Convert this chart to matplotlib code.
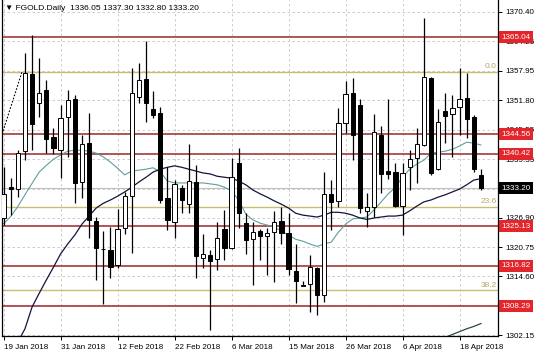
import matplotlib
matplotlib.use('Agg')
import matplotlib.pyplot as plt
import matplotlib.transforms as mtransforms
import numpy as np

plt.rcParams['font.family'] = ['Liberation Sans', 'DejaVu Sans']

# ---------------- data ----------------
opens = [1326.80, 1333.40, 1332.93, 1341.02, 1357.29, 1351.09, 1353.91, 1343.90, 1341.23, 1348.13,
         1352.01, 1334.55, 1342.64, 1326.31, 1320.45, 1320.12, 1316.95, 1324.69, 1331.59, 1352.50,
         1356.23, 1349.82, 1348.98, 1331.03, 1326.10, 1333.28, 1329.76, 1334.41, 1318.50, 1318.99,
         1318.14, 1324.55, 1320.47, 1338.56, 1325.75, 1322.44, 1324.13, 1323.07, 1323.85, 1326.24,
         1323.78, 1315.75, 1312.62, 1312.86, 1316.24, 1310.61, 1331.87, 1330.46, 1346.87, 1353.34,
         1350.74, 1328.42, 1329.27, 1344.40, 1336.80, 1336.52, 1329.41, 1337.71, 1339.47, 1342.29,
         1356.37, 1337.22, 1349.54, 1348.77, 1350.25, 1352.15, 1348.27, 1336.05]
highs = [1337.71, 1335.39, 1341.23, 1361.65, 1365.52, 1360.59, 1356.02, 1346.00, 1350.74, 1353.91,
         1352.85, 1344.40, 1348.98, 1327.16, 1324.20, 1325.04, 1328.70, 1332.44, 1358.48, 1359.54,
         1364.33, 1353.77, 1350.39, 1337.71, 1334.90, 1333.84, 1342.50, 1338.07, 1323.42, 1320.12,
         1326.10, 1328.56, 1339.47, 1341.73, 1327.86, 1325.96, 1324.48, 1324.69, 1328.42, 1329.13,
         1327.86, 1321.38, 1313.64, 1319.06, 1316.60, 1336.66, 1334.90, 1350.03, 1355.81, 1356.51,
         1352.01, 1332.08, 1348.77, 1346.30, 1352.01, 1338.42, 1338.56, 1341.23, 1345.81, 1369.10,
         1356.60, 1349.82, 1353.20, 1352.85, 1358.62, 1357.57, 1348.63, 1337.30]
lows = [1325.40, 1327.51, 1331.38, 1339.12, 1341.23, 1348.27, 1340.53, 1340.50, 1335.25, 1339.83,
        1329.97, 1331.03, 1322.58, 1313.78, 1308.71, 1314.13, 1316.24, 1323.49, 1319.41, 1351.09,
        1347.22, 1347.92, 1330.11, 1324.34, 1322.58, 1327.86, 1327.86, 1314.13, 1316.24, 1303.22,
        1315.89, 1318.00, 1320.26, 1324.69, 1319.20, 1312.72, 1318.00, 1314.84, 1313.43, 1321.38,
        1314.84, 1308.85, 1312.45, 1307.09, 1306.39, 1309.20, 1324.34, 1329.27, 1344.75, 1339.12,
        1327.86, 1325.04, 1327.16, 1332.08, 1335.04, 1329.13, 1323.28, 1332.79, 1334.19, 1342.08,
        1335.90, 1337.01, 1342.64, 1339.83, 1344.40, 1343.70, 1336.66, 1332.80]
closes = [1331.94, 1333.10, 1340.67, 1357.57, 1346.66, 1353.34, 1343.49, 1341.60, 1348.06, 1351.79,
          1334.19, 1342.43, 1326.45, 1320.61, 1320.25, 1316.60, 1324.62, 1331.59, 1353.20, 1356.02,
          1351.09, 1348.63, 1330.68, 1326.45, 1333.98, 1330.68, 1334.69, 1318.92, 1319.20, 1317.86,
          1322.58, 1320.47, 1335.60, 1327.86, 1322.23, 1323.85, 1323.07, 1323.78, 1326.10, 1323.78,
          1316.03, 1313.64, 1312.50, 1316.45, 1310.61, 1331.87, 1330.32, 1346.87, 1353.06, 1344.40,
          1328.92, 1329.27, 1344.97, 1336.17, 1336.17, 1329.41, 1336.31, 1339.26, 1342.50, 1356.72,
          1336.31, 1347.22, 1348.49, 1350.03, 1351.94, 1347.71, 1337.15, 1333.20]

ma_fast = [1325.7, 1327.2, 1329.3, 1331.8, 1334.2, 1336.6, 1338.0, 1339.3, 1340.2, 1341.0,
           1341.2, 1341.2, 1341.0, 1340.6, 1339.8, 1338.7, 1337.4, 1336.0, 1336.8, 1337.0,
           1337.2, 1337.5, 1336.6, 1334.7, 1334.3, 1334.3, 1334.3, 1334.3, 1334.3, 1334.1,
           1333.9, 1333.4, 1332.6, 1330.7, 1327.7, 1326.5, 1325.8, 1325.4, 1325.0, 1324.1,
           1323.3, 1322.4, 1322.0, 1321.4, 1320.9, 1321.4, 1321.8, 1323.9, 1325.6, 1326.7,
           1326.9, 1327.1, 1328.6, 1330.3, 1332.0, 1333.4, 1335.5, 1337.2, 1338.3, 1339.1,
           1340.6, 1340.8, 1341.0, 1341.4, 1342.1, 1342.9, 1342.7, 1342.3]
ma_slow = [1294.8, 1297.7, 1300.7, 1303.5, 1308.1, 1311.0, 1313.8, 1316.5, 1319.3, 1321.4,
           1323.3, 1325.6, 1327.3, 1329.0, 1330.0, 1330.7, 1331.5, 1332.4, 1333.4, 1334.5,
           1335.5, 1336.6, 1337.2, 1337.6, 1337.9, 1337.6, 1337.2, 1336.8, 1336.4, 1336.2,
           1335.7, 1335.5, 1335.3, 1334.7, 1333.9, 1332.8, 1332.0, 1331.3, 1330.5, 1329.8,
           1329.0, 1327.9, 1327.5, 1327.3, 1327.1, 1327.5, 1328.1, 1328.1, 1327.9, 1327.5,
           1326.9, 1326.6, 1326.9, 1327.1, 1327.3, 1327.3, 1327.5, 1328.4, 1329.4, 1330.3,
           1330.7, 1331.3, 1331.8, 1332.4, 1333.0, 1333.9, 1334.9, 1335.2]
ma_long = [np.nan] * 61 + [1301.1, 1301.7, 1302.3, 1302.9, 1303.5, 1304.0, 1304.6]

date_tick_bars = [0, 8, 16, 24, 32, 40, 48, 56, 64]
date_labels = ['19 Jan 2018', '31 Jan 2018', '12 Feb 2018', '22 Feb 2018', '6 Mar 2018',
               '15 Mar 2018', '26 Mar 2018', '6 Apr 2018', '18 Apr 2018']

ytick_values = [1302.15, 1308.45, 1314.60, 1320.75, 1326.90, 1333.05, 1339.35, 1345.55,
                1351.80, 1357.95, 1364.25, 1370.40]
ytick_labels = ['1302.15', '', '1314.60', '1320.75', '1326.90', '', '1339.35',
                '1345.55', '1351.80', '1357.95', '1364.25', '1370.40']

level_values = [1365.04, 1344.56, 1340.42, 1325.13, 1316.82, 1308.29]
level_labels = ['1365.04', '1344.56', '1340.42', '1325.13', '1316.82', '1308.29']

fib_high = 1357.8
fib_low = 1237.0
fib_ratios = [0.0, 23.6, 38.2]
fib_ratio_labels = ['0.0', '23.6', '38.2']
fib_anchor_bars = [-23.1, 2.6]

current_price = 1333.20
title_text = '\u25BC FGOLD.Daily  1336.05 1337.30 1332.80 1333.20'

# ---------------- figure ----------------
W, H = 536, 357
fig = plt.figure(figsize=(W / 100, H / 100), dpi=100)
fig.patch.set_facecolor('white')
ax = fig.add_axes([2 / W, 1 - 336 / H, 496 / W, 336 / H])
ax.set_facecolor('white')

n = len(opens)
x = np.arange(n)
ax.set_xlim(-0.22, 69.4)
ax.set_ylim(1301.98, 1372.92)

# grid
for v in ytick_values:
    ax.axhline(v, color='#c4c4c4', lw=0.6, ls=(0, (3, 3)), zorder=0)
for b in date_tick_bars:
    ax.axvline(b, color='#c4c4c4', lw=0.6, ls=(0, (3, 3)), zorder=0)

# bid line
ax.axhline(current_price, color='#c0c0c0', lw=0.8, zorder=1)

# support / resistance lines
for v in level_values:
    ax.axhline(v, color='#a33a3a', lw=1.2, zorder=1)

# fibonacci levels
fib_prices = [fib_high - (fib_high - fib_low) * r / 100 for r in fib_ratios]
for p, lab in zip(fib_prices, fib_ratio_labels):
    ax.axhline(p, color='#c9bd72', lw=1.0, zorder=1)
    ax.text(0.997, p + 0.35, lab, transform=mtransforms.blended_transform_factory(ax.transAxes, ax.transData),
            ha='right', va='bottom', fontsize=6, color='#b8a468', zorder=3)
ax.plot(fib_anchor_bars, [fib_low, fib_high], color='black', lw=0.8, ls=(0, (1.5, 1.5)), zorder=2)

# moving averages
ax.plot(x, ma_fast, color='#5f9ea0', lw=0.8, zorder=2)
ax.plot(x, ma_slow, color='#14143c', lw=0.9, zorder=2)
ax.plot(x, ma_long, color='#2b4a35', lw=0.9, zorder=2)

# candles
o = np.array(opens); c = np.array(closes); h = np.array(highs); l = np.array(lows)
ax.vlines(x, l, h, color='black', lw=0.9, zorder=3)
body_bottom = np.minimum(o, c)
body_height = np.maximum(np.abs(c - o), 0.18)
face = ['white' if cc > oo else 'black' for oo, cc in zip(o, c)]
ax.bar(x, body_height, bottom=body_bottom, width=0.6, color=face, edgecolor='black',
       linewidth=0.7, zorder=4)

# axes styling
ax.spines['top'].set_visible(False)
for s in ['left', 'bottom', 'right']:
    ax.spines[s].set_color('black')
    ax.spines[s].set_linewidth(0.9)

ax.yaxis.tick_right()
ax.set_yticks(ytick_values)
ax.set_yticklabels(ytick_labels)
ax.tick_params(axis='y', which='both', length=3, width=0.7, pad=2, labelsize=5.8, colors='black')
ax.set_xticks(date_tick_bars)
ax.set_xticklabels(date_labels)
ax.tick_params(axis='x', length=3, width=0.7, pad=2.5, labelsize=5.8, colors='black')
for t in ax.get_xticklabels():
    t.set_ha('left')

trans = mtransforms.blended_transform_factory(ax.transAxes, ax.transData)
for v, lab in zip(level_values, level_labels):
    ax.text(1.006, v, lab, transform=trans, ha='left', va='center', fontsize=5.8, color='white',
            bbox=dict(boxstyle='square,pad=0.3', fc='#e3262b', ec='none'), clip_on=False, zorder=10)
ax.text(1.006, current_price, f'{current_price:.2f}', transform=trans, ha='left', va='center',
        fontsize=5.8, color='white', bbox=dict(boxstyle='square,pad=0.3', fc='black', ec='none'),
        clip_on=False, zorder=10)

ax.text(3 / 496, 1 - 9 / 336, title_text, transform=ax.transAxes, ha='left', va='center',
        fontsize=6, color='black', zorder=10)

fig.savefig('out.png', dpi=100, facecolor='white')
